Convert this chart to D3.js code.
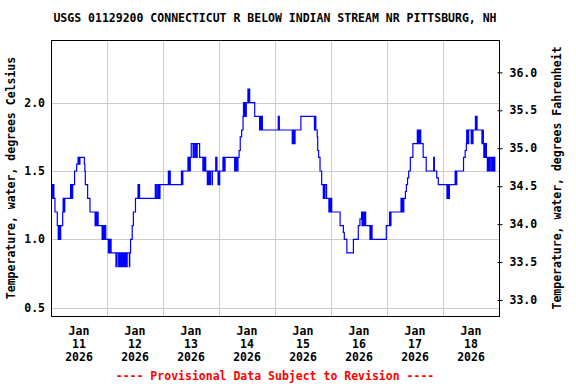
<!DOCTYPE html>
<html>
<head>
<meta charset="utf-8">
<script src="https://cdn.jsdelivr.net/npm/d3@7"></script>
<style>
  body { margin: 0; background: #fff; }
  text { font-family: "DejaVu Sans Mono", monospace; font-weight: bold; }
</style>
</head>
<body>
<div id="chart"></div>
<script>
// station + labels
const title = 'USGS 01129200 CONNECTICUT R BELOW INDIAN STREAM NR PITTSBURG, NH'
const leftLabel = 'Temperature, water, degrees Celsius'
const rightLabel = 'Temperature, water, degrees Fahrenheit'
const footNote = '---- Provisional Data Subject to Revision ----'

// tick values
const celsiusTicks = [0.5, 1.0, 1.5, 2.0]
const fahrenheitTicks = [33.0, 33.5, 34.0, 34.5, 35.0, 35.5, 36.0]
const dayLabels = ['11', '12', '13', '14', '15', '16', '17', '18']

// readings: [hours since Jan 11 00:00, deg C], value holds until next reading
const jan11 = [
  [0, 1.4], [0.25, 1.3], [0.5, 1.4], [0.75, 1.3], [1, 1.4], [1.25, 1.3],
  [1.7, 1.2], [2.7, 1.1], [3.1, 1.0], [3.6, 1.1], [3.75, 1.0], [3.9, 1.1], [4.0, 1.0], [4.15, 1.1],
  [5.0, 1.2], [5.2, 1.3], [5.4, 1.2], [5.6, 1.3], [5.75, 1.2], [5.9, 1.3],
  [8.4, 1.4], [8.55, 1.3], [9.0, 1.4], [9.1, 1.3], [9.3, 1.4],
  [10.1, 1.5], [11.0, 1.55], [11.6, 1.6], [11.75, 1.55], [12.0, 1.6], [12.2, 1.55], [12.4, 1.6],
  [14.3, 1.55], [14.5, 1.5], [14.7, 1.4], [15.7, 1.3], [16.7, 1.2],
  [18.9, 1.1], [19.1, 1.2], [19.3, 1.1], [19.5, 1.2], [19.75, 1.1], [20.0, 1.2], [20.2, 1.1],
  [21.9, 1.0], [22.1, 1.1], [22.3, 1.0], [22.5, 1.1], [22.7, 1.0], [22.9, 1.1], [23.1, 1.0], [23.3, 1.1], [23.45, 1.0]
]
const jan12 = [
  [24.6, 0.9], [24.75, 1.0], [25.0, 0.9], [25.2, 1.0], [25.4, 0.9], [25.6, 1.0], [25.75, 0.9],
  [27.85, 0.8], [28.0, 0.9], [28.15, 0.8], [28.3, 0.9],
  [29.0, 0.8], [29.1, 0.9],
  [29.6, 0.8], [29.75, 0.9], [29.9, 0.8], [30.05, 0.9], [30.2, 0.8], [30.35, 0.9],
  [30.8, 0.8], [30.95, 0.9],
  [31.4, 0.8], [31.5, 0.9],
  [31.9, 0.8], [32.05, 0.9], [32.2, 0.8], [32.35, 0.9], [32.5, 0.8], [32.65, 0.9],
  [33.6, 0.8], [33.75, 0.9],
  [34.1, 1.0], [34.8, 1.1], [35.3, 1.2], [36.2, 1.3], [37.3, 1.4], [37.6, 1.3], [37.8, 1.4], [37.95, 1.3],
  [44.7, 1.4], [44.85, 1.3], [45.4, 1.4], [45.55, 1.3], [46.1, 1.4], [46.25, 1.3], [46.7, 1.4]
]
const jan13 = [
  [50.3, 1.5], [50.45, 1.4], [50.6, 1.5], [50.75, 1.4], [50.9, 1.5], [51.1, 1.4],
  [55.9, 1.5], [56.05, 1.4], [56.2, 1.5], [56.35, 1.4], [56.5, 1.5],
  [58.7, 1.6], [58.85, 1.5], [59.0, 1.6], [59.15, 1.5], [59.3, 1.6], [59.5, 1.5], [59.7, 1.6],
  [60.1, 1.7], [60.9, 1.6], [61.05, 1.7], [61.2, 1.6], [61.35, 1.7],
  [61.9, 1.6], [62.05, 1.7], [62.2, 1.6], [62.35, 1.7], [62.5, 1.6], [62.65, 1.7],
  [63.7, 1.6], [65.1, 1.5], [65.25, 1.6], [65.4, 1.5], [65.55, 1.6], [65.7, 1.5], [65.85, 1.6], [66.0, 1.5], [66.15, 1.6], [66.3, 1.5],
  [67.0, 1.4], [67.15, 1.5], [67.3, 1.4], [67.45, 1.5], [67.6, 1.4], [67.75, 1.5], [67.9, 1.4], [68.05, 1.5], [68.2, 1.4], [68.3, 1.5],
  [69.0, 1.4], [69.15, 1.5],
  [70.6, 1.6], [70.75, 1.5], [71.0, 1.6], [71.1, 1.5],
  [71.6, 1.4], [71.75, 1.5], [71.9, 1.4], [72.05, 1.5], [72.2, 1.4], [72.3, 1.5],
  [73.7, 1.6], [73.85, 1.5], [74.0, 1.6], [74.15, 1.5], [74.3, 1.6], [74.45, 1.5], [74.6, 1.6]
]
const jan14 = [
  [78.7, 1.5], [78.85, 1.6], [79.0, 1.5], [79.15, 1.6], [79.3, 1.5], [79.45, 1.6], [80.0, 1.5], [80.15, 1.6],
  [80.6, 1.65], [81.1, 1.75], [81.7, 1.8], [82.3, 1.9],
  [82.5, 2.0], [82.65, 1.9], [82.8, 2.0], [82.95, 1.9], [83.1, 2.0], [83.25, 1.9],
  [83.7, 2.0], [84.4, 2.1], [84.55, 2.0], [84.9, 2.1], [85.15, 2.0],
  [87.3, 1.9], [89.4, 1.8], [89.55, 1.9], [89.7, 1.8], [89.85, 1.9], [90.0, 1.8], [90.15, 1.9], [90.3, 1.8], [90.45, 1.9], [90.6, 1.8],
  [97.4, 1.9], [97.55, 1.8], [97.7, 1.9], [97.85, 1.8]
]
const jan15 = [
  [103.4, 1.7], [103.55, 1.8], [103.9, 1.7], [104.05, 1.8], [104.2, 1.7], [104.35, 1.8], [104.5, 1.7], [104.6, 1.8],
  [107.1, 1.9], [112.9, 1.8], [113.05, 1.9], [113.2, 1.8], [113.35, 1.9], [113.5, 1.8],
  [114.1, 1.75], [114.3, 1.65], [114.7, 1.6], [115.3, 1.5], [116.0, 1.4],
  [116.7, 1.3], [116.85, 1.4], [117.0, 1.3], [117.15, 1.4], [117.3, 1.3], [117.45, 1.4],
  [118.1, 1.3], [119.1, 1.2], [119.25, 1.3], [119.4, 1.2], [119.55, 1.3], [119.7, 1.2], [119.85, 1.3], [120.0, 1.2], [120.15, 1.3], [120.3, 1.2]
]
const jan16 = [
  [123.9, 1.1], [125.3, 1.05], [125.7, 1.0], [126.8, 0.9], [129.6, 1.0], [131.7, 1.1], [132.4, 1.15], [133.1, 1.2],
  [133.3, 1.1], [133.45, 1.2], [133.9, 1.1], [134.05, 1.2], [134.2, 1.1], [134.35, 1.2], [134.5, 1.1], [134.6, 1.2], [134.85, 1.1],
  [136.7, 1.0], [136.85, 1.1], [137.0, 1.0], [137.15, 1.1], [137.3, 1.0], [137.45, 1.1], [137.6, 1.0],
  [143.7, 1.1]
]
const jan17 = [
  [145.1, 1.2], [145.25, 1.1], [145.4, 1.2], [145.55, 1.1], [145.7, 1.2],
  [150.0, 1.3], [150.15, 1.2], [150.3, 1.3], [150.45, 1.2], [150.6, 1.3], [150.75, 1.2], [150.9, 1.3], [151.05, 1.2], [151.2, 1.3],
  [151.9, 1.35], [152.3, 1.4], [152.8, 1.45], [153.3, 1.5], [154.0, 1.6], [155.1, 1.7],
  [157.0, 1.8], [157.15, 1.7], [157.5, 1.8], [157.6, 1.7], [157.75, 1.8], [157.9, 1.7], [158.05, 1.8], [158.2, 1.7], [158.35, 1.8], [158.45, 1.7],
  [159.5, 1.6], [160.8, 1.5], [164.0, 1.6], [164.3, 1.5], [165.3, 1.45], [166.0, 1.4],
  [169.7, 1.3], [169.85, 1.4], [170.0, 1.3], [170.15, 1.4], [170.3, 1.3], [170.45, 1.4], [170.6, 1.3], [170.75, 1.4]
]
const jan18 = [
  [173.2, 1.5], [173.35, 1.4], [173.5, 1.5], [173.65, 1.4], [173.9, 1.5],
  [176.8, 1.6], [177.5, 1.65], [178.0, 1.7], [178.15, 1.8], [178.3, 1.7], [178.45, 1.8], [178.6, 1.7], [178.75, 1.8], [178.9, 1.7], [179.0, 1.8],
  [180.1, 1.7], [180.25, 1.8], [180.4, 1.7], [180.55, 1.8], [180.7, 1.7], [180.85, 1.8],
  [181.9, 1.9], [182.05, 1.8], [182.2, 1.9], [182.35, 1.8], [182.5, 1.9], [182.6, 1.8],
  [184.7, 1.7], [184.85, 1.8], [185.0, 1.7], [185.15, 1.8], [185.3, 1.7],
  [185.5, 1.6], [185.65, 1.7], [185.8, 1.6], [185.95, 1.7], [186.1, 1.6], [186.25, 1.7], [186.6, 1.6],
  [187.0, 1.5], [187.15, 1.6], [187.5, 1.5], [187.65, 1.6], [187.8, 1.5], [187.95, 1.6],
  [188.5, 1.5], [188.65, 1.6], [189.2, 1.5], [189.35, 1.6], [189.5, 1.5], [189.65, 1.6], [189.8, 1.5], [189.95, 1.6], [190.2, 1.5], [190.5, 1.5]
]

// ----- layout -----
const width = 576
const height = 384
const plot = { left: 51, right: 499, top: 40, bottom: 316 }

const start = new Date(Date.UTC(2026, 0, 11))
const hourMs = 3600 * 1000
const toDate = h => new Date(start.getTime() + h * hourMs)

const xScale = d3.scaleTime()
  .domain([start, toDate(192)])
  .range([plot.left, plot.right])

// 1.0 C sits at y 239.3, 2.0 C at 102.7
const yC = d3.scaleLinear().domain([0.4385, 2.459]).range([plot.bottom, plot.top])
const yF = d3.scaleLinear().domain(yC.domain().map(c => c * 1.8 + 32)).range([plot.bottom, plot.top])

const svg = d3.select('#chart').append('svg').attr('width', width).attr('height', height)

// gridlines
const grid = svg.append('g').attr('class', 'grid')
grid.selectAll('.hgrid').data(celsiusTicks).enter().append('line')
  .attr('x1', plot.left).attr('x2', plot.right)
  .attr('y1', d => Math.round(yC(d)) + 0.5).attr('y2', d => Math.round(yC(d)) + 0.5)
  .attr('stroke', '#cccccc')
const midnights = d3.range(1, 8).map(d => toDate(d * 24))
grid.selectAll('.vgrid').data(midnights).enter().append('line')
  .attr('y1', plot.top).attr('y2', plot.bottom)
  .attr('x1', d => Math.round(xScale(d)) + 0.5).attr('x2', d => Math.round(xScale(d)) + 0.5)
  .attr('stroke', '#cccccc')

// data line
const readings = [].concat(jan11, jan12, jan13, jan14, jan15, jan16, jan17, jan18)
const line = d3.line()
  .x(d => xScale(toDate(d[0])))
  .y(d => yC(d[1]))
  .curve(d3.curveStepAfter)
svg.append('path')
  .datum(readings)
  .attr('d', line)
  .attr('fill', 'none')
  .attr('stroke', '#0000ff')
  .attr('stroke-width', 1.2)

// frame
svg.append('rect')
  .attr('x', plot.left + 0.5).attr('y', plot.top + 0.5)
  .attr('width', plot.right - plot.left).attr('height', plot.bottom - plot.top)
  .attr('fill', 'none').attr('stroke', '#000')

// left axis (labels only)
const leftAxis = svg.append('g')
  .attr('transform', `translate(${plot.left},0)`)
  .call(d3.axisLeft(yC).tickValues(celsiusTicks).tickFormat(d3.format('.1f')).tickSize(0).tickPadding(6))
leftAxis.select('.domain').remove()

// right axis
const rightAxis = svg.append('g')
  .attr('transform', `translate(${plot.right + 0.5},0)`)
  .call(d3.axisRight(yF).tickValues(fahrenheitTicks).tickFormat(d3.format('.1f')).tickSize(3).tickPadding(7))
rightAxis.select('.domain').remove()
rightAxis.selectAll('.tick line').attr('x1', -2).attr('x2', 3).attr('stroke', '#000')

svg.selectAll('.tick text')
  .attr('font-size', '11.5px')
  .attr('font-family', '"DejaVu Sans Mono", monospace')
  .attr('font-weight', 'bold')
  .attr('fill', '#000')

// date labels at noon
const dateG = svg.append('g')
dayLabels.forEach((day, i) => {
  const cx = xScale(toDate(i * 24 + 12))
  const t = dateG.append('text')
    .attr('x', cx)
    .attr('text-anchor', 'middle')
    .attr('font-size', '11.5px')
  t.append('tspan').attr('x', cx).attr('y', 335).text('Jan')
  t.append('tspan').attr('x', cx).attr('y', 348).text(day)
  t.append('tspan').attr('x', cx).attr('y', 361).text('2026')
})

// titles
svg.append('text')
  .attr('x', (plot.left + plot.right) / 2).attr('y', 22)
  .attr('text-anchor', 'middle').attr('font-size', '11.5px')
  .text(title)

svg.append('text')
  .attr('transform', `translate(15,${(plot.top + plot.bottom) / 2}) rotate(-90)`)
  .attr('text-anchor', 'middle').attr('font-size', '11.5px')
  .text(leftLabel)

svg.append('text')
  .attr('transform', `translate(561,${(plot.top + plot.bottom) / 2}) rotate(-90)`)
  .attr('text-anchor', 'middle').attr('font-size', '11.5px')
  .text(rightLabel)

svg.append('text')
  .attr('x', (plot.left + plot.right) / 2).attr('y', 380)
  .attr('text-anchor', 'middle').attr('font-size', '11.5px')
  .attr('fill', '#ff0000')
  .text(footNote)
</script>
</body>
</html>
